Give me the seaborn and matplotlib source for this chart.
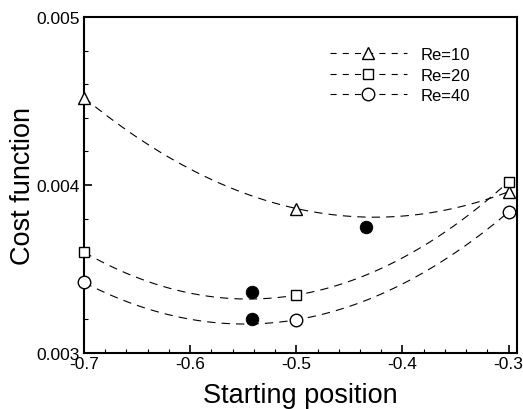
import matplotlib
matplotlib.use("Agg")
import matplotlib.pyplot as plt
import seaborn as sns
import pandas as pd
import numpy as np
from matplotlib.lines import Line2D
from matplotlib.ticker import MultipleLocator, FixedLocator

# ---- data ----
x_pos = [-0.7, -0.5, -0.3]
re10 = [0.00452, 0.00386, 0.00396]
re20 = [0.00360, 0.003345, 0.00402]
re40 = [0.00342, 0.003198, 0.00384]
labels = ["Re=10", "Re=20", "Re=40"]
min_x = [-0.434, -0.5415, -0.5415]
min_y = [0.00375, 0.003363, 0.003202]
xticks = [-0.7, -0.6, -0.5, -0.4, -0.3]
yticks = [0.003, 0.004, 0.005]

sns.set_theme(style="ticks")
plt.rcParams['font.family'] = ['Liberation Sans', 'DejaVu Sans']
plt.rcParams['axes.unicode_minus'] = False
plt.rcParams['text.color'] = 'black'
plt.rcParams['axes.labelcolor'] = 'black'
plt.rcParams['xtick.color'] = 'black'
plt.rcParams['ytick.color'] = 'black'

fig = plt.figure(figsize=(5.23, 4.10), dpi=100)
ax = fig.add_axes([0.1606, 0.1366, 0.828, 0.8195])

markers = ["^", "s", "o"]
msizes = [8.5, 7.5, 9]
series = [re10, re20, re40]
dash = (0, (7.5, 5.5))

for vals, m, ms in zip(series, markers, msizes):
    df = pd.DataFrame({"x": x_pos, "y": vals})
    sns.regplot(data=df, x="x", y="y", order=2, ci=None, scatter=False,
                truncate=True, ax=ax,
                line_kws=dict(color="black", lw=0.8, linestyle=dash))
    ax.plot(df["x"], df["y"], linestyle="none", marker=m, ms=ms,
            mfc="white", mec="black", mew=1.0, clip_on=False, zorder=5)

dfm = pd.DataFrame({"x": min_x, "y": min_y})
sns.scatterplot(data=dfm, x="x", y="y", ax=ax, color="black", s=80,
                marker="o", edgecolor="black", zorder=6, legend=False)

ax.set_xlim(-0.7, -0.2921)
ax.set_ylim(0.003, 0.005)
ax.xaxis.set_major_locator(FixedLocator(xticks))
ax.yaxis.set_major_locator(FixedLocator(yticks))
ax.xaxis.set_minor_locator(MultipleLocator(0.02))
ax.yaxis.set_minor_locator(MultipleLocator(0.0002))
ax.set_xticklabels([f"{t:.1f}" for t in xticks])
ax.set_yticklabels([f"{t:.3f}" for t in yticks])

for s in ax.spines.values():
    s.set_linewidth(1.5)
    s.set_color("black")
    s.set_visible(True)
ax.tick_params(which="major", direction="in", length=6, width=1.2,
               labelsize=12.5, pad=3, colors="black", top=False, right=False)
ax.tick_params(which="minor", direction="in", length=3, width=0.8,
               colors="black", top=False, right=False)
ax.tick_params(axis="x", which="major", pad=2)

ax.set_xlabel("Starting position", fontsize=19.5, labelpad=8, color="black")
ax.set_ylabel("Cost function", fontsize=19.5, labelpad=0, color="black")

handles = [Line2D([0], [0], color="black", lw=0.8, linestyle=(0, (5.5, 5.5)),
                  marker=m, ms=ms, mfc="white", mec="black", mew=1.0)
           for m, ms in zip(markers, msizes)]
ax.legend(handles, labels, loc="upper left", bbox_to_anchor=(0.568, 0.91),
          frameon=False, fontsize=12, handlelength=4.6, handletextpad=0.85,
          labelspacing=0.32, borderpad=0, borderaxespad=0, numpoints=1)

fig.savefig("out.png", dpi=100)
